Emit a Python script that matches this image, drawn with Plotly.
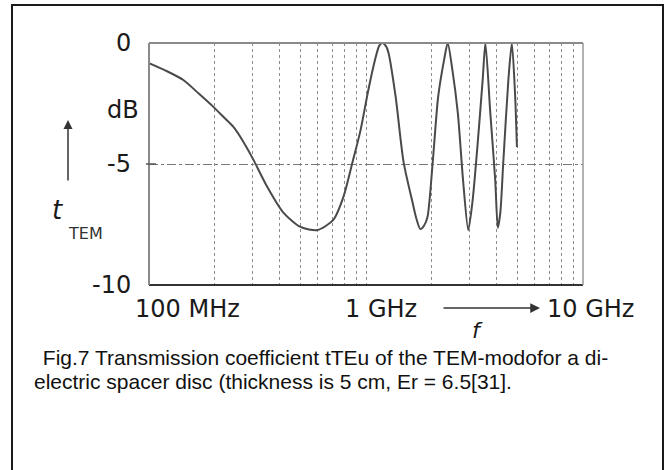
import plotly.graph_objects as go

# Frequency (MHz) and transmission coefficient t_TEM (dB)
freq_mhz = [100, 120, 144, 170, 198, 220, 245, 275, 303, 351, 417, 499, 597, 707,
            787, 867, 944, 1025, 1100, 1150, 1190, 1240, 1270, 1370, 1490, 1640,
            1700, 1780, 1850, 1920, 2030, 2150, 2290, 2380, 2500, 2650, 2800, 2960,
            3100, 3260, 3450, 3550, 3740, 3940, 4050, 4160, 4290, 4530, 4700, 4870, 4960]
t_db = [-0.83, -1.15, -1.53, -2.1, -2.64, -3.05, -3.47, -4.15, -4.83, -5.95, -7.02, -7.6, -7.73, -7.31,
        -6.36, -4.92, -3.6, -1.94, -0.7, -0.12, 0.0, -0.15, -0.41, -2.23, -4.92, -6.6,
        -7.2, -7.69, -7.55, -7.19, -4.92, -2.23, -0.7, 0.0, -1.1, -2.9, -5.66, -7.73,
        -6.5, -4.3, -1.5, 0.0, -2.9, -5.66, -7.64, -7.0, -4.96, -1.53, 0.0, -2.23, -4.3]

grid_freqs = [200, 300, 400, 500, 600, 700, 800, 900, 1000,
              2000, 3000, 4000, 5000, 6000, 7000, 8000, 9000]
y_labels = ["0", "-5", "-10"]
y_label_vals = [0, -5, -10]
x_labels = ["100 MHz", "1 GHz", "10 GHz"]
caption_lines = [" Fig.7 Transmission coefficient tTEu of the TEM-modofor a di-",
                 "electric spacer disc (thickness is 5 cm, Er = 6.5[31]."]

W, H = 665, 470
L, R, T, B = 149, 583, 43, 285


def px(x):
    return (x - L) / (R - L)


def py(y):
    return (B - y) / (B - T)


fig = go.Figure(go.Scatter(
    x=freq_mhz, y=t_db, mode="lines",
    line=dict(color="#4a4a4a", width=2, shape="spline", smoothing=0.7),
    hoverinfo="skip"))

LBL = dict(family="DejaVu Sans", size=24, color="#1a1a1a")

ann = []
# y labels
for txt, v in zip(y_labels, y_label_vals):
    ann.append(dict(x=px(133), y=v, xref="paper", yref="y", text=txt,
                    showarrow=False, xanchor="right", yanchor="middle", font=LBL))
ann.append(dict(x=px(141), y=py(110), xref="paper", yref="paper", text="dB",
                showarrow=False, xanchor="right", yanchor="middle", font=LBL))
# x labels
for txt, xl in zip(x_labels, [133, 343, 545]):
    ann.append(dict(x=px(xl), y=py(309), xref="paper", yref="paper", text=txt,
                    showarrow=False, xanchor="left", yanchor="middle", font=LBL))
# f arrow
ann.append(dict(x=px(540), y=py(308), xref="paper", yref="paper", text="",
                showarrow=True, ax=-98, ay=0, axref="pixel", ayref="pixel",
                arrowhead=2, arrowsize=1.3, arrowwidth=1.5, arrowcolor="#333"))
ann.append(dict(x=px(477), y=py(330), xref="paper", yref="paper", text="<i>f</i>",
                showarrow=False, xanchor="center", yanchor="middle",
                font=dict(family="DejaVu Sans", size=22, color="#1a1a1a")))
# t arrow
ann.append(dict(x=px(68), y=py(120), xref="paper", yref="paper", text="",
                showarrow=True, ax=0, ay=62, axref="pixel", ayref="pixel",
                arrowhead=2, arrowsize=1.2, arrowwidth=1.5, arrowcolor="#333"))
ann.append(dict(x=px(57), y=py(210), xref="paper", yref="paper", text="<i>t</i>",
                showarrow=False, xanchor="center", yanchor="middle",
                font=dict(family="DejaVu Sans", size=26, color="#1a1a1a")))
ann.append(dict(x=px(66), y=py(233), xref="paper", yref="paper", text="TEM",
                showarrow=False, xanchor="left", yanchor="middle",
                font=dict(family="DejaVu Sans", size=16, color="#333")))
# caption
for txt, xl, yl in zip(caption_lines, [35, 32], [357, 381]):
    ann.append(dict(x=px(xl), y=py(yl), xref="paper", yref="paper", text=txt,
                    showarrow=False, xanchor="left", yanchor="middle",
                    font=dict(family="Liberation Sans", size=21, color="#111")))

shapes = [
    # outer frame
    dict(type="rect", xref="paper", yref="paper", x0=px(12), x1=px(663),
         y0=py(480), y1=py(5), line=dict(color="#1a1a1a", width=2)),
    # plot box edges
    dict(type="line", xref="paper", yref="paper", x0=0, x1=1, y0=1, y1=1,
         line=dict(color="#8a8a8a", width=2)),
    dict(type="line", xref="paper", yref="paper", x0=0, x1=1, y0=0, y1=0,
         line=dict(color="#333", width=2)),
    dict(type="line", xref="paper", yref="paper", x0=0, x1=0, y0=0, y1=1,
         line=dict(color="#8a8a8a", width=2)),
    dict(type="line", xref="paper", yref="paper", x0=1, x1=1, y0=0, y1=1,
         line=dict(color="#999", width=1.5)),
    dict(type="line", xref="paper", yref="y", x0=px(146), x1=px(156), y0=-5, y1=-5,
         line=dict(color="#555", width=1.5)),
]

fig.update_layout(
    width=W, height=H,
    margin=dict(l=L, r=W - R, t=T, b=H - B, pad=0),
    paper_bgcolor="white", plot_bgcolor="white",
    showlegend=False,
    xaxis=dict(type="log", range=[2, 4], tickvals=grid_freqs, showticklabels=False,
               ticks="", showgrid=True, gridcolor="#8c8c8c", gridwidth=1,
               griddash="dot", zeroline=False, showline=False, fixedrange=True),
    yaxis=dict(range=[-10, 0], tickvals=[-5], showticklabels=False, ticks="",
               showgrid=True, gridcolor="#777", gridwidth=1, griddash="dashdot",
               zeroline=False, showline=False, fixedrange=True),
    annotations=ann, shapes=shapes,
)

fig.write_html("out.html")
